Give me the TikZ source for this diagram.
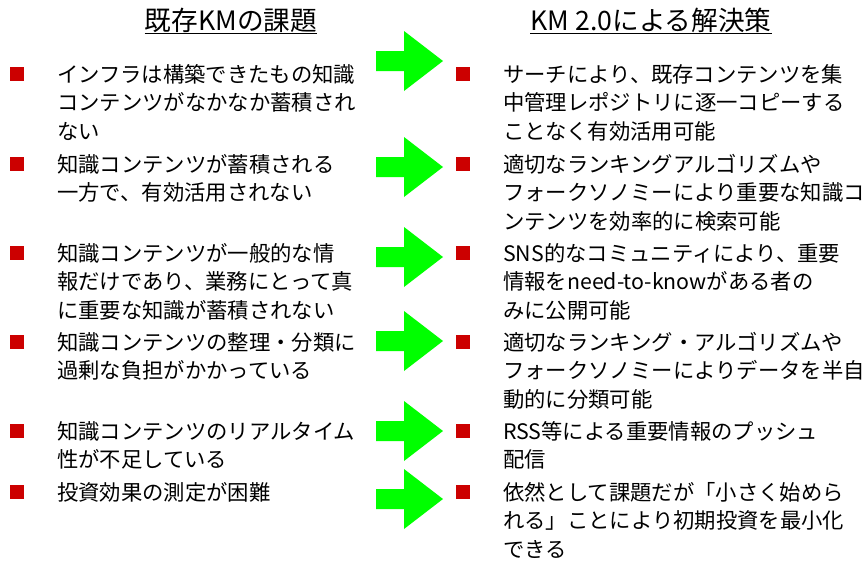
\documentclass[tikz,border=0pt]{standalone}
\usepackage{fontspec}
\setmainfont{Noto Sans CJK JP}
\usepackage{xcolor}
\definecolor{bulred}{RGB}{204,0,0}
\definecolor{arrgreen}{RGB}{0,255,0}
\newcommand{\stack}[1]{\begin{tabular}[t]{@{}l@{}}#1\end{tabular}}
\tikzset{
  head/.style={inner sep=0pt, font=\fontsize{20pt}{24pt}\selectfont},
  item/.style={anchor=base west, inner sep=0pt, font=\fontsize{16pt}{21.4pt}\selectfont},
  bul/.style={fill=bulred, minimum size=10.5pt, inner sep=0pt},
  arrowfill/.style={fill=arrgreen},
}

\begin{document}
\begin{tikzpicture}[x=0.75pt, y=-0.75pt]
\useasboundingbox (0,0) rectangle (863,571);
% headers
\node[head, anchor=base] (hdL) at (231,30) {既存KMの課題};
\node[head, anchor=base] (hdR) at (651,30) {KM 2.0による解決策};
\draw[line width=1pt] ([yshift=-2.5pt]hdL.base west) -- ([yshift=-2.5pt]hdL.base east);
\draw[line width=1pt] ([yshift=-2.5pt]hdR.base west) -- ([yshift=-2.5pt]hdR.base east);
% left column
\foreach \y [count=\i] in {74,164,253,342,431,492}
  \node[bul] (bulL\i) at (17,\y) {};
\node[item] (probA) at (57,82) {\stack{インフラは構築できたもの知識\\コンテンツがなかなか蓄積され\\ない}};
\node[item] (probB) at (57,172) {\stack{知識コンテンツが蓄積される\\一方で、有効活用されない}};
\node[item] (probC) at (57,261) {\stack{知識コンテンツが一般的な情\\報だけであり、業務にとって真\\に重要な知識が蓄積されない}};
\node[item] (probD) at (57,350) {\stack{知識コンテンツの整理・分類に\\過剰な負担がかかっている}};
\node[item] (probE) at (57,439) {\stack{知識コンテンツのリアルタイム\\性が不足している}};
\node[item] (probF) at (57,500) {\stack{投資効果の測定が困難}};
% arrows
\foreach \y [count=\i] in {61,167,257,341,431,499}{
  \coordinate (arr\i) at (376,\y);
  \fill[arrowfill] (arr\i) ++(0,-10) -- ++(28,0) -- ++(0,-20) -- ++(39,30)
    -- ++(-39,30) -- ++(0,-20) -- ++(-28,0) -- cycle;
}
% right column
\foreach \y [count=\i] in {74,164,253,342,431,492}
  \node[bul] (bulR\i) at (463,\y) {};
\node[item] (solA) at (503,82) {\stack{サーチにより、既存コンテンツを集\\中管理レポジトリに逐一コピーする\\ことなく有効活用可能}};
\node[item] (solB) at (503,172) {\stack{適切なランキングアルゴリズムや\\フォークソノミーにより重要な知識コ\\ンテンツを効率的に検索可能}};
\node[item] (solC) at (503,261) {\stack{SNS的なコミュニティにより、重要\\情報をneed-to-knowがある者の\\みに公開可能}};
\node[item] (solD) at (503,350) {\stack{適切なランキング・アルゴリズムや\\フォークソノミーによりデータを半自\\動的に分類可能}};
\node[item] (solE) at (503,439) {\stack{RSS等による重要情報のプッシュ\\配信}};
\node[item] (solF) at (503,500) {\stack{依然として課題だが「小さく始めら\\れる」ことにより初期投資を最小化\\できる}};
\end{tikzpicture}
\end{document}
